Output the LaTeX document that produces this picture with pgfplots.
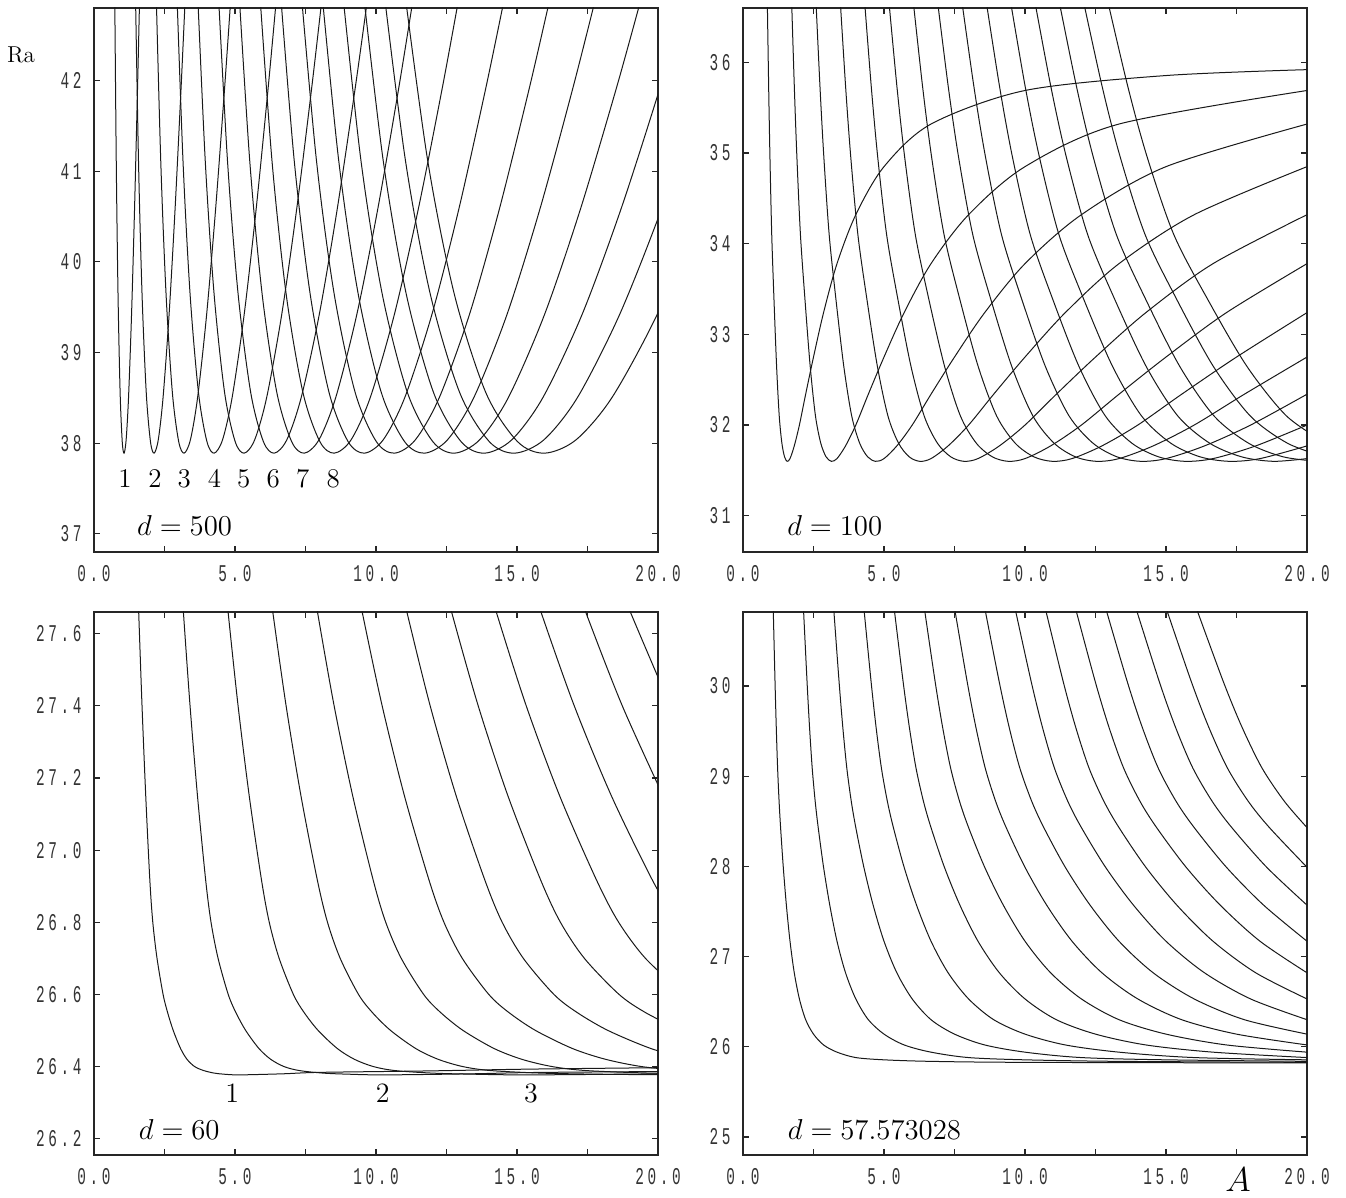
\documentclass[border=0pt]{standalone}
\usepackage{fontspec}
\usepackage{pgfplots}
\pgfplotsset{compat=1.18}
\newfontfamily\tickfont[FakeStretch=0.6, LetterSpace=15]{Liberation Mono}
\tikzset{dlab/.style={anchor=base west, font=\fontsize{14.4}{17}\selectfont},
  nlab/.style={anchor=base, font=\fontsize{13.5}{15}\selectfont},
  mlab/.style={anchor=base, font=\fontsize{14}{16}\selectfont}}
\pgfplotsset{
  cv/.style={black!90, line width=0.5pt, smooth, mark=none},
  panel/.style={
    scale only axis, width=282pt, height=272pt,
    xmin=0, xmax=20,
    xtick={0,5,10,15,20},
    xticklabels={0.0,5.0,10.0,15.0,20.0},
    minor xtick={2.5,7.5,12.5,17.5},
    tick align=inside,
    major tick length=2.8pt, minor tick length=2.8pt,
    axis line style={line width=0.75pt, black!85},
    tick style={line width=0.6pt, black!85},
    every tick label/.append style={font=\tickfont\fontsize{12}{12}\selectfont, text=black!80, inner sep=0pt},
    xticklabel style={yshift=-6.5pt},
    yticklabel style={xshift=-6pt},
    anchor=south west,
  },
}
\begin{document}
\begin{tikzpicture}
\path[use as bounding box] (0,0) rectangle (673pt,599pt);
\node[font=\fontsize{11.5}{13}\selectfont] at (10.5pt,571.5pt) {Ra};
\node[inner sep=0pt, font=\fontsize{16}{18}\selectfont] at (619pt,9pt) {$A$};

% ---------------- d = 500 ----------------
\begin{axis}[panel, at={(47pt,323pt)}, ymin=36.8, ymax=42.8,
  ytick={37,38,39,40,41,42}, yticklabels={37,38,39,40,41,42}]
\addplot[cv] coordinates {(0.7242,43.35)(0.7881,41.14)(0.852,39.64)(0.9266,38.555)(1.0011,38.018)(1.065,37.89)(1.1396,38.037)(1.2248,38.505)(1.3313,39.418)(1.4378,40.585)(1.5443,41.923)(1.6188,42.93)};
\addplot[cv] coordinates {(1.4484,43.35)(1.5762,41.14)(1.704,39.64)(1.8531,38.555)(2.0022,38.018)(2.13,37.89)(2.2791,38.037)(2.4495,38.505)(2.6625,39.418)(2.8755,40.585)(3.0885,41.923)(3.2376,42.93)};
\addplot[cv] coordinates {(2.1726,43.35)(2.3643,41.14)(2.556,39.64)(2.7797,38.555)(3.0033,38.018)(3.195,37.89)(3.4187,38.037)(3.6743,38.505)(3.9938,39.418)(4.3133,40.585)(4.6328,41.923)(4.8564,42.93)};
\addplot[cv] coordinates {(2.8968,43.35)(3.1524,41.14)(3.408,39.64)(3.7062,38.555)(4.0044,38.018)(4.26,37.89)(4.5582,38.037)(4.899,38.505)(5.325,39.418)(5.751,40.585)(6.177,41.923)(6.4752,42.93)};
\addplot[cv] coordinates {(3.621,43.35)(3.9405,41.14)(4.26,39.64)(4.6328,38.555)(5.0055,38.018)(5.325,37.89)(5.6978,38.037)(6.1238,38.505)(6.6563,39.418)(7.1888,40.585)(7.7213,41.923)(8.094,42.93)};
\addplot[cv] coordinates {(4.3452,43.35)(4.7286,41.14)(5.112,39.64)(5.5593,38.555)(6.0066,38.018)(6.39,37.89)(6.8373,38.037)(7.3485,38.505)(7.9875,39.418)(8.6265,40.585)(9.2655,41.923)(9.7128,42.93)};
\addplot[cv] coordinates {(5.0694,43.35)(5.5167,41.14)(5.964,39.64)(6.4859,38.555)(7.0077,38.018)(7.455,37.89)(7.9769,38.037)(8.5733,38.505)(9.3188,39.418)(10.0643,40.585)(10.8098,41.923)(11.3316,42.93)};
\addplot[cv] coordinates {(5.7936,43.35)(6.3048,41.14)(6.816,39.64)(7.4124,38.555)(8.0088,38.018)(8.52,37.89)(9.1164,38.037)(9.798,38.505)(10.65,39.418)(11.502,40.585)(12.354,41.923)(12.9504,42.93)};
\addplot[cv] coordinates {(6.5178,43.35)(7.0929,41.14)(7.668,39.64)(8.339,38.555)(9.0099,38.018)(9.585,37.89)(10.256,38.037)(11.0228,38.505)(11.9813,39.418)(12.9398,40.585)(13.8983,41.923)(14.5692,42.93)};
\addplot[cv] coordinates {(7.242,43.35)(7.881,41.14)(8.52,39.64)(9.2655,38.555)(10.011,38.018)(10.65,37.89)(11.3955,38.037)(12.2475,38.505)(13.3125,39.418)(14.3775,40.585)(15.4425,41.923)(16.188,42.93)};
\addplot[cv] coordinates {(7.9662,43.35)(8.6691,41.14)(9.372,39.64)(10.1921,38.555)(11.0121,38.018)(11.715,37.89)(12.5351,38.037)(13.4723,38.505)(14.6438,39.418)(15.8153,40.585)(16.9868,41.923)(17.8068,42.93)};
\addplot[cv] coordinates {(8.6904,43.35)(9.4572,41.14)(10.224,39.64)(11.1186,38.555)(12.0132,38.018)(12.78,37.89)(13.6746,38.037)(14.697,38.505)(15.975,39.418)(17.253,40.585)(18.531,41.923)(19.4256,42.93)};
\addplot[cv] coordinates {(9.4146,43.35)(10.2453,41.14)(11.076,39.64)(12.0452,38.555)(13.0143,38.018)(13.845,37.89)(14.8142,38.037)(15.9218,38.505)(17.3063,39.418)(18.6908,40.585)(20.0753,41.923)(21.0444,42.93)};
\addplot[cv] coordinates {(10.1388,43.35)(11.0334,41.14)(11.928,39.64)(12.9717,38.555)(14.0154,38.018)(14.91,37.89)(15.9537,38.037)(17.1465,38.505)(18.6375,39.418)(20.1285,40.585)(21.6195,41.923)(22.6632,42.93)};
\addplot[cv] coordinates {(10.863,43.35)(11.8215,41.14)(12.78,39.64)(13.8983,38.555)(15.0165,38.018)(15.975,37.89)(17.0933,38.037)(18.3713,38.505)(19.9688,39.418)(21.5663,40.585)(23.1638,41.923)(24.282,42.93)};
\node[dlab] at (rel axis cs:0.064,0.031) {$d = 500$};
\node[nlab] at (axis cs:1.10,37.51) {1};
\node[nlab] at (axis cs:2.16,37.51) {2};
\node[nlab] at (axis cs:3.20,37.51) {3};
\node[nlab] at (axis cs:4.27,37.51) {4};
\node[nlab] at (axis cs:5.31,37.51) {5};
\node[nlab] at (axis cs:6.36,37.51) {6};
\node[nlab] at (axis cs:7.40,37.51) {7};
\node[nlab] at (axis cs:8.48,37.51) {8};
\end{axis}

% ---------------- d = 100 ----------------
\begin{axis}[panel, at={(371.5pt,323pt)}, ymin=30.6, ymax=36.6,
  ytick={31,32,33,34,35,36}, yticklabels={31,32,33,34,35,36}]
\addplot[cv] coordinates {(0.846,37.0)(0.909,35.75)(0.956,34.95)(1.019,34.1)(1.097,33.4)(1.191,32.65)(1.285,32.1)(1.379,31.8)(1.473,31.65)(1.567,31.6)(1.667,31.63)(1.818,31.77)(2.0,32.0)(2.222,32.34)(2.5,32.75)(2.857,33.24)(3.333,33.78)(4.0,34.32)(5.0,34.85)(6.667,35.32)(10.0,35.69)(15.0,35.855)(20.0,35.92)};
\addplot[cv] coordinates {(1.692,37.0)(1.818,35.75)(1.912,34.95)(2.037,34.1)(2.194,33.4)(2.382,32.65)(2.570,32.1)(2.758,31.8)(2.946,31.65)(3.134,31.6)(3.333,31.63)(3.636,31.77)(4.0,32.0)(4.444,32.34)(5.0,32.75)(5.714,33.24)(6.667,33.78)(8.0,34.32)(10.0,34.85)(13.333,35.32)(20.0,35.69)};
\addplot[cv] coordinates {(2.539,37.0)(2.727,35.75)(2.868,34.95)(3.056,34.1)(3.291,33.4)(3.573,32.65)(3.855,32.1)(4.137,31.8)(4.419,31.65)(4.701,31.6)(5.0,31.63)(5.455,31.77)(6.0,32.0)(6.667,32.34)(7.5,32.75)(8.571,33.24)(10.0,33.78)(12.0,34.32)(15.0,34.85)(20.0,35.32)};
\addplot[cv] coordinates {(3.385,37.0)(3.635,35.75)(3.823,34.95)(4.074,34.1)(4.388,33.4)(4.764,32.65)(5.140,32.1)(5.516,31.8)(5.892,31.65)(6.268,31.6)(6.667,31.63)(7.273,31.77)(8.0,32.0)(8.889,32.34)(10.0,32.75)(11.429,33.24)(13.333,33.78)(16.0,34.32)(20.0,34.85)};
\addplot[cv] coordinates {(4.231,37.0)(4.544,35.75)(4.779,34.95)(5.093,34.1)(5.485,33.4)(5.955,32.65)(6.425,32.1)(6.895,31.8)(7.365,31.65)(7.835,31.6)(8.333,31.63)(9.091,31.77)(10.0,32.0)(11.111,32.34)(12.5,32.75)(14.286,33.24)(16.667,33.78)(20.0,34.32)};
\addplot[cv] coordinates {(5.077,37.0)(5.453,35.75)(5.735,34.95)(6.111,34.1)(6.581,33.4)(7.146,32.65)(7.710,32.1)(8.274,31.8)(8.838,31.65)(9.402,31.6)(10.0,31.63)(10.909,31.77)(12.0,32.0)(13.333,32.34)(15.0,32.75)(17.143,33.24)(20.0,33.78)};
\addplot[cv] coordinates {(5.923,37.0)(6.362,35.75)(6.691,34.95)(7.130,34.1)(7.678,33.4)(8.336,32.65)(8.995,32.1)(9.653,31.8)(10.311,31.65)(10.969,31.6)(11.667,31.63)(12.727,31.77)(14.0,32.0)(15.556,32.34)(17.5,32.75)(20.0,33.24)};
\addplot[cv] coordinates {(6.769,37.0)(7.271,35.75)(7.647,34.95)(8.148,34.1)(8.775,33.4)(9.527,32.65)(10.280,32.1)(11.032,31.8)(11.784,31.65)(12.536,31.6)(13.333,31.63)(14.545,31.77)(16.0,32.0)(17.778,32.34)(20.0,32.75)};
\addplot[cv] coordinates {(7.616,37.0)(8.180,35.75)(8.603,34.95)(9.167,34.1)(9.872,33.4)(10.718,32.65)(11.564,32.1)(12.411,31.8)(13.257,31.65)(14.103,31.6)(15.0,31.63)(16.364,31.77)(18.0,32.0)(20.0,32.34)};
\addplot[cv] coordinates {(8.462,37.0)(9.089,35.75)(9.559,34.95)(10.186,34.1)(10.969,33.4)(11.909,32.65)(12.849,32.1)(13.790,31.8)(14.730,31.65)(15.670,31.6)(16.667,31.63)(18.182,31.77)(20.0,32.0)};
\addplot[cv] coordinates {(9.308,37.0)(9.997,35.75)(10.515,34.95)(11.204,34.1)(12.066,33.4)(13.100,32.65)(14.134,32.1)(15.169,31.8)(16.203,31.65)(17.237,31.6)(18.333,31.63)(20.0,31.77)};
\addplot[cv] coordinates {(10.154,37.0)(10.906,35.75)(11.470,34.95)(12.223,34.1)(13.163,33.4)(14.291,32.65)(15.419,32.1)(16.548,31.8)(17.676,31.65)(18.804,31.6)(20.0,31.63)};
\addplot[cv] coordinates {(11.000,37.0)(11.815,35.75)(12.426,34.95)(13.241,34.1)(14.260,33.4)(15.482,32.65)(16.704,32.1)(17.926,31.8)(19.149,31.65)(20.371,31.6)};
\addplot[cv] coordinates {(11.847,37.0)(12.724,35.75)(13.382,34.95)(14.260,34.1)(15.357,33.4)(16.673,32.65)(17.989,32.1)(19.305,31.8)(20.622,31.65)};
\addplot[cv] coordinates {(12.693,37.0)(13.633,35.75)(14.338,34.95)(15.278,34.1)(16.454,33.4)(17.864,32.65)(19.274,32.1)(20.684,31.8)};
\node[dlab] at (rel axis cs:0.066,0.031) {$d = 100$};
\end{axis}

% ---------------- d = 60 ----------------
\begin{axis}[panel, at={(47pt,21.5pt)}, height=271.5pt, ymin=26.155, ymax=27.66,
  ytick={26.2,26.4,26.6,26.8,27.0,27.2,27.4,27.6},
  yticklabels={26.2,26.4,26.6,26.8,27.0,27.2,27.4,27.6}]
\addplot[cv] coordinates {(1.518,27.82)(1.585,27.66)(1.703,27.40)(1.835,27.15)(1.98,26.917)(2.085,26.80)(2.235,26.70)(2.45,26.60)(2.61,26.55)(2.81,26.50)(3.07,26.45)(3.30,26.42)(3.57,26.40)(3.89,26.389)(4.26,26.382)(4.60,26.379)(5.15,26.377)(6.7,26.380)(8.0,26.384)(11.85,26.388)(15.45,26.393)(20.1,26.397)};
\addplot[cv] coordinates {(3.036,27.82)(3.17,27.66)(3.406,27.40)(3.67,27.15)(3.96,26.917)(4.15,26.80)(4.40,26.70)(4.76,26.60)(5.03,26.55)(5.38,26.50)(5.85,26.45)(6.27,26.42)(6.74,26.40)(7.28,26.389)(8.12,26.382)(9.0,26.379)(10.3,26.377)(13.4,26.380)(16.0,26.384)(23.7,26.388)};
\addplot[cv] coordinates {(4.554,27.82)(4.755,27.66)(5.109,27.40)(5.505,27.15)(5.94,26.917)(6.215,26.80)(6.565,26.70)(7.07,26.60)(7.45,26.55)(7.95,26.50)(8.63,26.45)(9.24,26.42)(9.91,26.40)(10.67,26.389)(11.98,26.382)(13.4,26.379)(15.45,26.377)(20.1,26.380)};
\addplot[cv] coordinates {(6.072,27.82)(6.34,27.66)(6.812,27.40)(7.34,27.15)(7.92,26.917)(8.28,26.80)(8.73,26.70)(9.38,26.60)(9.87,26.55)(10.52,26.50)(11.41,26.45)(12.21,26.42)(13.08,26.40)(14.06,26.389)(15.84,26.382)(17.8,26.379)(20.6,26.377)};
\addplot[cv] coordinates {(7.59,27.82)(7.925,27.66)(8.515,27.40)(9.175,27.15)(9.9,26.917)(10.345,26.80)(10.895,26.70)(11.69,26.60)(12.29,26.55)(13.09,26.50)(14.19,26.45)(15.18,26.42)(16.25,26.40)(17.45,26.389)(19.7,26.382)(22.2,26.379)};
\addplot[cv] coordinates {(9.108,27.82)(9.51,27.66)(10.218,27.40)(11.01,27.15)(11.88,26.917)(12.41,26.80)(13.06,26.70)(14.0,26.60)(14.71,26.55)(15.66,26.50)(16.97,26.45)(18.15,26.42)(19.42,26.40)(20.84,26.389)};
\addplot[cv] coordinates {(10.626,27.82)(11.095,27.66)(11.921,27.40)(12.845,27.15)(13.86,26.917)(14.475,26.80)(15.225,26.70)(16.31,26.60)(17.13,26.55)(18.23,26.50)(19.75,26.45)(21.12,26.42)};
\addplot[cv] coordinates {(12.144,27.82)(12.68,27.66)(13.624,27.40)(14.68,27.15)(15.84,26.917)(16.54,26.80)(17.39,26.70)(18.62,26.60)(19.55,26.55)(20.8,26.50)};
\addplot[cv] coordinates {(13.662,27.82)(14.265,27.66)(15.327,27.40)(16.515,27.15)(17.82,26.917)(18.605,26.80)(19.555,26.70)(20.93,26.60)};
\addplot[cv] coordinates {(15.18,27.82)(15.85,27.66)(17.03,27.40)(18.35,27.15)(19.8,26.917)(20.67,26.80)};
\addplot[cv] coordinates {(16.698,27.82)(17.435,27.66)(18.733,27.40)(20.185,27.15)};
\addplot[cv] coordinates {(18.216,27.82)(19.02,27.66)(20.436,27.40)};
\node[dlab] at (rel axis cs:0.067,0.028) {$d = 60$};
\node[mlab] at (axis cs:4.9,26.30) {1};
\node[mlab] at (axis cs:10.24,26.30) {2};
\node[mlab] at (axis cs:15.5,26.30) {3};
\end{axis}

% ---------------- d = 57.573028 ----------------
\begin{axis}[panel, at={(371.5pt,21.5pt)}, height=271.5pt, ymin=24.8, ymax=30.82,
  ytick={25,26,27,28,29,30}, yticklabels={25,26,27,28,29,30}]
\addplot[cv] coordinates {(1.03,31.4)(1.075,30.82)(1.137,30.03)(1.18,29.54)(1.227,29.09)(1.28,28.72)(1.333,28.43)(1.4286,27.99)(1.538,27.57)(1.667,27.17)(1.818,26.82)(2.0,26.53)(2.222,26.30)(2.5,26.14)(2.857,26.02)(3.333,25.94)(4.0,25.88)(5.0,25.855)(6.667,25.838)(10.0,25.827)(20.0,25.82)};
\addplot[cv] coordinates {(2.06,31.4)(2.15,30.82)(2.274,30.03)(2.36,29.54)(2.454,29.09)(2.56,28.72)(2.667,28.43)(2.857,27.99)(3.077,27.57)(3.333,27.17)(3.636,26.82)(4.0,26.53)(4.444,26.30)(5.0,26.14)(5.714,26.02)(6.667,25.94)(8.0,25.88)(10.0,25.855)(13.333,25.838)(20.0,25.827)};
\addplot[cv] coordinates {(3.09,31.4)(3.225,30.82)(3.411,30.03)(3.54,29.54)(3.681,29.09)(3.84,28.72)(4.0,28.43)(4.286,27.99)(4.615,27.57)(5.0,27.17)(5.455,26.82)(6.0,26.53)(6.667,26.30)(7.5,26.14)(8.571,26.02)(10.0,25.94)(12.0,25.88)(15.0,25.855)(20.0,25.838)};
\addplot[cv] coordinates {(4.12,31.4)(4.3,30.82)(4.548,30.03)(4.72,29.54)(4.908,29.09)(5.12,28.72)(5.333,28.43)(5.714,27.99)(6.154,27.57)(6.667,27.17)(7.273,26.82)(8.0,26.53)(8.889,26.30)(10.0,26.14)(11.429,26.02)(13.333,25.94)(16.0,25.88)(20.0,25.855)};
\addplot[cv] coordinates {(5.15,31.4)(5.375,30.82)(5.685,30.03)(5.9,29.54)(6.135,29.09)(6.4,28.72)(6.667,28.43)(7.143,27.99)(7.692,27.57)(8.333,27.17)(9.091,26.82)(10.0,26.53)(11.111,26.30)(12.5,26.14)(14.286,26.02)(16.667,25.94)(20.0,25.88)};
\addplot[cv] coordinates {(6.18,31.4)(6.45,30.82)(6.822,30.03)(7.08,29.54)(7.362,29.09)(7.68,28.72)(8.0,28.43)(8.571,27.99)(9.231,27.57)(10.0,27.17)(10.909,26.82)(12.0,26.53)(13.333,26.30)(15.0,26.14)(17.143,26.02)(20.0,25.94)};
\addplot[cv] coordinates {(7.21,31.4)(7.525,30.82)(7.959,30.03)(8.26,29.54)(8.589,29.09)(8.96,28.72)(9.333,28.43)(10.0,27.99)(10.769,27.57)(11.667,27.17)(12.727,26.82)(14.0,26.53)(15.556,26.30)(17.5,26.14)(20.0,26.02)};
\addplot[cv] coordinates {(8.24,31.4)(8.6,30.82)(9.096,30.03)(9.44,29.54)(9.816,29.09)(10.24,28.72)(10.667,28.43)(11.429,27.99)(12.308,27.57)(13.333,27.17)(14.545,26.82)(16.0,26.53)(17.778,26.30)(20.0,26.14)};
\addplot[cv] coordinates {(9.27,31.4)(9.675,30.82)(10.233,30.03)(10.62,29.54)(11.043,29.09)(11.52,28.72)(12.0,28.43)(12.857,27.99)(13.846,27.57)(15.0,27.17)(16.364,26.82)(18.0,26.53)(20.0,26.30)};
\addplot[cv] coordinates {(10.3,31.4)(10.75,30.82)(11.37,30.03)(11.8,29.54)(12.27,29.09)(12.8,28.72)(13.333,28.43)(14.286,27.99)(15.385,27.57)(16.667,27.17)(18.182,26.82)(20.0,26.53)};
\addplot[cv] coordinates {(11.33,31.4)(11.825,30.82)(12.507,30.03)(12.98,29.54)(13.497,29.09)(14.08,28.72)(14.667,28.43)(15.714,27.99)(16.923,27.57)(18.333,27.17)(20.0,26.82)};
\addplot[cv] coordinates {(12.36,31.4)(12.9,30.82)(13.644,30.03)(14.16,29.54)(14.724,29.09)(15.36,28.72)(16.0,28.43)(17.143,27.99)(18.462,27.57)(20.0,27.17)};
\addplot[cv] coordinates {(13.39,31.4)(13.975,30.82)(14.781,30.03)(15.34,29.54)(15.951,29.09)(16.64,28.72)(17.333,28.43)(18.571,27.99)(20.0,27.57)};
\addplot[cv] coordinates {(14.42,31.4)(15.05,30.82)(15.918,30.03)(16.52,29.54)(17.178,29.09)(17.92,28.72)(18.667,28.43)(20.0,27.99)};
\addplot[cv] coordinates {(15.45,31.4)(16.125,30.82)(17.055,30.03)(17.7,29.54)(18.405,29.09)(19.2,28.72)(20.0,28.43)};
\node[dlab] at (rel axis cs:0.067,0.028) {$d = 57.573028$};
\end{axis}
\end{tikzpicture}
\end{document}
